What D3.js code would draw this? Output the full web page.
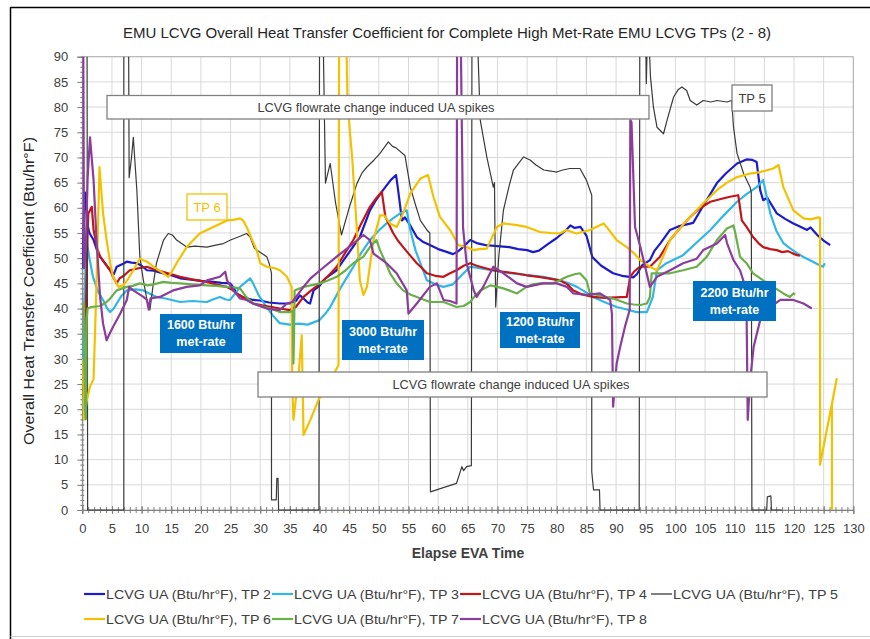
<!DOCTYPE html>
<html><head><meta charset="utf-8">
<script src="https://cdn.jsdelivr.net/npm/d3@7"></script>
<style>body{margin:0;background:#fff}svg{display:block}</style>
</head><body><svg id="c" width="870" height="639"></svg>
<script>
// ---------- DATA ----------
const titleText = "EMU LCVG Overall Heat Transfer Coefficient  for Complete High Met-Rate EMU LCVG TPs (2 - 8)";
const xTitle = "Elapse EVA Time";
const yTitle = "Overall Heat Transfer Coefficient (Btu/hr\u00B0F)";
const xTicks = [0,5,10,15,20,25,30,35,40,45,50,55,60,65,70,75,80,85,90,95,100,105,110,115,120,125,130];
const yTicks = [0,5,10,15,20,25,30,35,40,45,50,55,60,65,70,75,80,85,90];
const seriesNames = ["LCVG UA (Btu/hr\u00B0F), TP 2","LCVG UA (Btu/hr\u00B0F), TP 3","LCVG UA (Btu/hr\u00B0F), TP 4","LCVG UA (Btu/hr\u00B0F), TP 5","LCVG UA (Btu/hr\u00B0F), TP 6","LCVG UA (Btu/hr\u00B0F), TP 7","LCVG UA (Btu/hr\u00B0F), TP 8"];
const seriesColors = ["#1c1cc8","#33b5e5","#c0161c","#3a3a3a","#f2c200","#6aaf4a","#8a3d9a"];

const tp2 = [[0,48],[0.3,60],[0.5,63],[0.8,57],[1.2,55],[1.9,53.6],[2.5,51.5],[3,50.3],[3.8,49],[4.7,47.6],[5.3,46.8],[5.8,48.3],[6.9,48.9],[7.5,49.3],[8.3,49.1],[9.2,49],[10,48.5],[10.9,47.6],[12,47.5],[13.5,47],[15,46.6],[16.5,46],[18,45.8],[20,45.5],[22.1,45.3],[23.5,45.1],[24.9,45],[25.5,44.2],[26,43],[27,42.3],[28.8,41.7],[30,41.6],[31.5,41.2],[33.3,41],[35,41],[36,41.5],[36.7,42.6],[37.3,42],[38,41.2],[38.4,41],[39,43.6],[40,44.5],[41,46],[42.9,47.6],[44,49.5],[45.5,52],[46.8,54.2],[48.5,59.5],[49.5,61.5],[50.7,63.5],[52,65.5],[52.9,66.5],[53.2,64],[53.9,57.5],[54.4,58.1],[55.3,56.5],[56.4,54.2],[57.5,53.2],[58.6,52.6],[60,51.8],[61.3,51.3],[62.5,50.8],[63.3,51.3],[64,52],[65.4,53.6],[66.5,53],[68,52.6],[70,52.4],[72,52.2],[73.5,51.8],[75,51.6],[76,51.2],[77,51.5],[78.5,52.8],[80,54],[81.5,55.5],[82.3,56.5],[83,56],[84,56.2],[85,54.5],[86,50.2],[87.5,48.5],[89.5,47],[91,46.5],[92.9,46.2],[93.5,46.8],[94.4,48.6],[95.7,49.6],[96.5,51.5],[97.5,53],[99.1,55.6],[100.5,56.3],[103,57],[104.5,60],[107,64.9],[108.5,66.8],[110.4,68.8],[112,69.6],[113,69.5],[113.7,69.1],[114.3,63.5],[114.8,61.5],[115.5,62],[117.1,58.9],[118.5,57.8],[119.9,56.9],[121,56.3],[122.2,55.6],[122.8,56.1],[124,54.5],[125,53.5],[126.1,52.6]];

const tp3 = [[0,20],[0.3,40],[0.7,53.6],[1.2,50],[1.8,46.3],[2.6,43.5],[3.5,41.7],[4.2,40],[4.7,39.3],[5.3,40],[5.8,41],[6.6,42.5],[7.5,43.6],[9,43.8],[10.3,43.6],[11.3,43],[12.5,42.3],[14,42],[16.5,41.3],[18.5,41.5],[21,41.3],[22,41.8],[23.2,42.3],[24.2,41.8],[24.9,41.7],[25.8,43],[26.6,44.3],[27.5,45.2],[28.3,46],[28.8,45],[29.8,42.5],[31.1,40.3],[32.2,38.5],[33.3,37.1],[35,36.8],[36.5,37],[38,36.8],[40,37.7],[41,39],[41.8,40.3],[43.5,44],[45.7,48.3],[47,51],[48.5,53.6],[50,55.5],[51.3,56.9],[52.5,58],[53.6,58.9],[54.7,59.5],[55.3,55.6],[56.2,51.5],[57,49],[58.1,45.6],[59.5,44.8],[60.9,44.3],[62.5,44.8],[63.7,46.3],[65.4,48.3],[67,48],[69,47.6],[70.5,47.3],[72.1,47],[74,46.8],[75.5,46.6],[77.7,46.3],[79,46],[80.5,45.6],[82,45],[83.4,44.3],[84.8,43.3],[86.1,42.3],[88,41.3],[90.1,40.3],[91.8,39.8],[93.5,39.3],[95.2,39.3],[96.2,42.3],[96.9,47.6],[98.5,49],[101.3,50.6],[103.5,53],[105.9,55.6],[108,58.3],[110.4,61.2],[112,62.7],[113.7,64.1],[114.8,65.5],[115.4,62.2],[116,58.9],[117,55.5],[118.2,53],[119.3,52],[120.5,51],[121.5,50.3],[122.7,49.6],[124,48.8],[124.9,48.3],[125.2,49]];

const tp4 = [[0,25],[0.3,22],[0.6,40],[0.9,55],[1.0,58.8],[1.3,59.5],[1.6,60.2],[1.9,55.6],[2.5,52],[3,50.3],[3.8,49],[4.7,47.6],[5.3,46],[5.8,45],[6.3,46],[7,46.5],[8,47.6],[9.5,48],[10.9,48.3],[12,47.8],[13.6,47.3],[15,46.8],[16.5,46.3],[18.5,45.8],[21,45.3],[22.5,44.8],[24.3,44.3],[25.2,43.8],[26,43],[27.5,42],[28.8,41],[30.5,40.6],[33.3,40],[35,39.7],[36,40.3],[37.3,42.3],[38.5,43.5],[40.1,45],[41.5,46.5],[42.9,48.3],[44.3,51],[45.7,53.6],[47,56.8],[48.5,60.2],[49.5,61.8],[50.5,63.2],[51.1,58.2],[51.8,56.5],[52.4,55],[53.2,53.5],[54.1,52.2],[55.3,50.5],[56.4,49],[57.3,48],[58.1,47],[59.5,46.5],[60.9,46.3],[62,47],[63.1,47.6],[64.3,48.5],[65.4,49],[66.5,48.5],[68,48],[69.3,47.6],[71,47.3],[73,47],[74.9,46.6],[77,46.3],[78.5,46],[80.5,45.6],[81.8,44.8],[82.8,43.6],[84.3,42.8],[86.1,42.3],[88,42.1],[90,42.2],[91.8,42.3],[92.4,46.3],[93,47.3],[94,48.3],[95.7,48.3],[97.4,50.3],[99.1,53.6],[100.8,56],[102.5,58.2],[104,59.8],[105.9,61.2],[107.5,61.7],[109.2,62.2],[110.6,62.5],[111.2,57.5],[112,56.2],[113.1,54.2],[114,53],[114.8,52.2],[116,51.8],[117.1,51.6],[118,51.2],[119,51.4],[119.7,51],[120.5,50.6],[121,50.5]];

const tp5 = [[0.8,95],[0.9,0],[7.0,0],[7.0,95],[7.8,95],[7.9,66],[8.3,70],[8.6,74],[9.2,63.5],[9.7,50.3],[10.3,45.6],[10.9,41.7],[11.4,39.7],[11.9,44.3],[12.5,49],[13.7,53.6],[14.5,54.9],[15.2,54.6],[15.9,53.6],[17.6,52.2],[19,52.4],[21,52.2],[22.5,52.6],[23.8,52.9],[25,53.6],[26.5,54.3],[27.7,54.9],[28.3,54.2],[29,52],[29.4,51.6],[31.1,50.3],[31.5,49],[31.9,47],[31.9,2],[32.7,2],[32.8,6.3],[33.0,6.3],[33.1,0],[39.9,0],[40,95],[40.6,95],[41,64.9],[41.8,68.8],[42.7,61],[43.7,54.6],[45,60],[46.3,64.8],[47.2,67],[48,68.1],[49.2,69.5],[50.2,70.8],[51.6,73.1],[52.3,72.2],[52.9,71.9],[54.4,70.4],[55.3,64.1],[56.2,60.5],[57,57.5],[58.1,55.6],[58.6,55],[58.7,3.6],[61,4.5],[63.1,5.3],[64,8.6],[64.3,7.8],[64.8,8.6],[65.6,8.8],[65.7,95],[66.6,95],[67.1,77.4],[68.2,70.1],[69.3,64.1],[69.5,65],[69.7,40.3],[70.2,50],[71,59.5],[72,64.5],[72.7,67.5],[74.4,70.1],[75.5,69.5],[76.5,68.5],[77.8,67.5],[79,67.3],[80,67.1],[81,67.5],[82.2,67.8],[83.9,67.8],[85,65.5],[85.9,62.5],[85.9,7.6],[86.2,4],[87.2,4],[87.3,0],[93.9,0],[94.0,95],[95.0,95],[95.1,84.7],[95.3,95],[95.5,95],[95.8,86],[96.3,80],[96.9,76],[98,74.7],[98.6,77.4],[99.7,82],[100.5,83.5],[101.1,84],[101.9,83.3],[102.5,81.3],[103.6,80.4],[104.7,81.3],[106,81],[107,81.3],[108.7,81],[109.5,81.3],[109.8,76],[110.4,70.8],[111.5,66.8],[112.6,64.1],[112.8,63],[112.9,0],[115.4,0],[115.5,2.6],[116.1,2.8],[116.2,0],[118,0]];

const tp6 = [[0,30],[0.3,18],[0.8,22],[1.3,24.5],[1.9,26],[2.4,45],[2.9,68.1],[3.5,58.9],[4.1,53.6],[4.7,49],[5.2,46.3],[6.1,44.3],[6.9,44.6],[7.8,46],[8.6,47.6],[9.7,49.9],[10.9,49.3],[12,48.3],[13.7,47],[14.5,46.3],[15.2,47.5],[15.9,49],[17.6,52.2],[19.8,54.9],[22.1,56.2],[24.4,57.5],[25.5,57.6],[26.6,57.9],[27.1,57.5],[27.7,56.2],[28.5,54],[29.4,51.6],[30,49],[31.1,48.3],[32.5,48],[33.3,47.6],[34.5,46.3],[35.3,44.3],[35.4,25],[35.6,17.9],[36.4,26],[37.0,34.7],[37.3,14.9],[38.5,18],[39.8,21.8],[41.5,25],[43.2,28.8],[43.3,95],[44.5,95],[44.7,82],[45.1,75.4],[45.5,70],[46.3,55.6],[46.8,45.6],[47.4,42.7],[48,44.3],[49.1,53.6],[50.2,58.5],[50.9,58.5],[51.9,56.9],[53,56.2],[54.1,58.9],[55.3,62.8],[57,65.8],[58.3,66.5],[59.2,62.2],[60.3,58.2],[62,55.6],[63.4,52.6],[64.8,52.2],[65.9,51.6],[67,51.8],[68.2,51.9],[69.9,56.2],[71,56.9],[73,56.6],[74.9,56.2],[77.2,55.2],[79,55],[80.5,54.9],[81.6,55.6],[83.3,54.9],[85.6,55.6],[87.9,56.9],[88.4,56.2],[90.1,53.6],[91.8,52.2],[93,51],[94.1,49.6],[95.7,48.3],[96.9,47.6],[98,50.5],[99.1,53.6],[100.8,56],[102.5,58.2],[104.8,61],[107,63.5],[108.7,65],[110.4,66.1],[112.6,66.8],[114.3,67.1],[116.5,67.8],[117.4,68.5],[118.2,64.1],[119.9,59.5],[121.6,57.9],[122.8,57.7],[124.1,58.1],[124.4,58],[124.4,9],[127.2,26],[126.4,21],[126.4,0]];

const tp7 = [[0,40.5],[0.3,41],[0.45,20],[0.6,18],[0.75,38],[0.9,40],[1.5,40.3],[3,40.5],[4,41.2],[4.7,42],[5.8,43.6],[7.5,44.3],[8.5,44.5],[9.7,45],[11,44.6],[12,44.8],[13.7,45.3],[15,45.1],[16.5,45],[18.5,44.8],[21,44.6],[22.5,44.5],[24.4,44.3],[25.5,44.2],[26.6,44],[27.5,42.5],[28.8,41],[30,40.5],[31.7,40],[33.3,39.3],[35,39.3],[35.5,39.5],[35.6,29.1],[35.7,35],[35.8,43.6],[37.3,44.3],[38.5,44.6],[40.1,45],[41.5,45.6],[42.9,46.3],[44.3,47.5],[45.7,49],[47.4,50.3],[48.5,52.2],[49.6,53.6],[50.2,51.6],[51,49.5],[51.9,47],[53,45],[54.1,43.6],[55.3,42.8],[56.4,42.3],[57.5,41.8],[58.6,41.3],[60.9,41.3],[62,40.8],[63.1,40.3],[64.3,40.5],[65.4,41.3],[66.2,42.5],[67.1,43.6],[68.8,44.6],[70,44.3],[71,44],[72.2,43.5],[73.3,43],[74.9,44.3],[76,44.8],[77.2,45],[79.4,45],[80.5,45.6],[81.7,46.3],[83,46.8],[83.9,47],[85,45.6],[85.6,43],[86.5,42.8],[88.4,42.3],[90,41.8],[91.8,41],[93,40.8],[94.1,40.7],[95.2,41],[95.7,42.3],[96,47],[97.5,47],[99.1,47],[101.3,47.6],[103.6,48.3],[105.3,50.3],[107,53.6],[108.7,55.9],[109.8,56.5],[110.1,55],[110.9,50.3],[112,49],[113.1,47],[114.8,45.6],[116.5,44.3],[118.2,43],[119.3,42.3],[119.9,43],[120.2,42.8]];

const tp8 = [[0,95],[0.15,95],[0.3,48],[0.6,52],[0.9,66],[1.3,74],[1.9,65.5],[2.4,53.6],[3,42.3],[3.5,37],[4.1,33.7],[4.6,35],[5.2,36.4],[6.4,39],[7.5,41.7],[7.9,44.3],[8.6,43.6],[10.3,42.3],[10.9,41.7],[11.2,39.8],[11.5,42],[13.1,42.3],[15.3,43.6],[17.6,44.3],[19.8,44.6],[21,45.6],[23.2,46.3],[24.1,47.3],[24.4,45.6],[25.5,43.6],[26.6,42],[27.7,41.7],[28.8,41],[31.1,40],[33.3,39.7],[34.5,41],[35.4,41.3],[37.3,44.3],[38.5,46],[40.1,47.6],[42.9,50.3],[45.7,52.9],[47.4,54.6],[48.5,53.6],[49.1,50.9],[51.3,49],[53,47],[54.7,43.6],[55,39],[56.4,41],[58.6,44.3],[59.8,45],[60.9,41.7],[62,41.5],[63.1,41],[63.2,95],[63.8,95],[64.2,56],[64.8,49],[66,43.6],[66.5,42.3],[67.6,44.3],[69.3,48.3],[71,47],[73.3,45],[74.9,44.3],[77.7,45],[80,45],[81.7,44.3],[82.8,43],[85,42.7],[87.3,43],[89,41.7],[89.3,39],[89.5,20.5],[90.1,29.1],[90.7,32.4],[91.5,36.4],[92.3,39.7],[92.4,77.4],[92.6,77],[93.2,56.2],[94.1,52.2],[94.9,48.3],[95.7,44.3],[96.9,46.3],[99.1,47.6],[101.3,49],[103.6,49.9],[104.7,51.6],[107,52.9],[108.4,54.6],[108.7,53],[109.8,49.6],[110.9,47.6],[111.8,44.3],[112,40],[112.2,17.9],[112.6,25.8],[113.2,32.4],[114.3,37.7],[116,40.3],[117.7,41.7],[119.9,41.7],[121.6,41],[123,40]];

const seriesData = [tp2, tp3, tp4, tp5, tp6, tp7, tp8];

const spikeLabel = "LCVG flowrate change induced UA spikes";
const metRateLabels = [["1600 Btu/hr","met-rate"],["3000 Btu/hr","met-rate"],["1200 Btu/hr","met-rate"],["2200 Btu/hr","met-rate"]];

// ---------- DRAW ----------
const svg = d3.select("#c");
const W = 870, H = 639;
const L = 82.3, R = 853.3, T = 56.7, B = 510;
const x = d3.scaleLinear().domain([0,130]).range([L,R]);
const y = d3.scaleLinear().domain([0,90]).range([B,T]);
const FONT = "'Liberation Sans', Arial, sans-serif";

svg.append("rect").attr("width",W).attr("height",H).attr("fill","#fff");
// outer frame
svg.append("line").attr("x1",10.5).attr("x2",870).attr("y1",7.5).attr("y2",7.5).attr("stroke","#000").attr("stroke-width",1.5);
svg.append("line").attr("x1",10.5).attr("x2",10.5).attr("y1",7).attr("y2",639).attr("stroke","#000").attr("stroke-width",1.5);
svg.append("line").attr("x1",10.5).attr("x2",870).attr("y1",636.5).attr("y2",636.5).attr("stroke","#cfcfcf").attr("stroke-width",1);

// title
svg.append("text").attr("x",447).attr("y",38).attr("text-anchor","middle")
  .attr("font-family","'Liberation Sans Narrow', 'Arial Narrow', "+FONT).attr("font-size",15).attr("fill","#262626")
  .attr("textLength",648).attr("lengthAdjust","spacingAndGlyphs").text(titleText);

// gridlines
const g = svg.append("g");
g.selectAll(".vg").data(xTicks.filter(d=>d>0)).join("line")
  .attr("x1",d=>x(d)).attr("x2",d=>x(d)).attr("y1",T).attr("y2",B).attr("stroke","#d9d9d9").attr("stroke-width",1);
g.selectAll(".hg").data(yTicks.filter(d=>d>0)).join("line")
  .attr("x1",L).attr("x2",R).attr("y1",d=>y(d)).attr("y2",d=>y(d)).attr("stroke","#d9d9d9").attr("stroke-width",1);
// plot border
svg.append("rect").attr("x",L).attr("y",T).attr("width",R-L).attr("height",B-T).attr("fill","none").attr("stroke","#b0b0b0").attr("stroke-width",1);

// clip
svg.append("defs").append("clipPath").attr("id","clip").append("rect").attr("x",L).attr("y",T).attr("width",R-L).attr("height",B-T+1);

// axes
const axisColor = "#7f7f7f";
const xa = svg.append("g").attr("transform",`translate(0,${B})`)
  .call(d3.axisBottom(x).tickValues(xTicks).tickSize(4).tickPadding(10).tickFormat(d3.format("d")));
xa.selectAll(".tick line").attr("y1",-4).attr("y2",4);
const xm = svg.append("g").attr("transform",`translate(0,${B})`)
  .call(d3.axisBottom(x).tickValues(d3.range(0,131,1)).tickSize(3).tickFormat(""));
xm.selectAll(".tick line").attr("y1",-3).attr("y2",3);
xm.select(".domain").remove();
const ya = svg.append("g").attr("transform",`translate(${L},0)`)
  .call(d3.axisLeft(y).tickValues(yTicks).tickSize(5).tickPadding(9).tickFormat(d3.format("d")));
const ym = svg.append("g").attr("transform",`translate(${L},0)`)
  .call(d3.axisLeft(y).tickValues(d3.range(0,91,1)).tickSize(2).tickFormat(""));
ym.selectAll(".tick line").attr("x1",2).attr("x2",-2);
ym.select(".domain").remove();
[xa,xm,ya,ym].forEach(a=>{
  a.selectAll("line").attr("stroke",axisColor);
  a.selectAll(".domain").attr("stroke",axisColor);
  a.selectAll("text").attr("font-family",FONT).attr("font-size",13).attr("fill","#404040");
});

// axis titles
svg.append("text").attr("x",468).attr("y",558).attr("text-anchor","middle")
  .attr("font-family",FONT).attr("font-size",14).attr("font-weight","bold").attr("fill","#404040").text(xTitle);
svg.append("text").attr("transform","translate(34,291) rotate(-90)").attr("text-anchor","middle")
  .attr("font-family",FONT).attr("font-size",14).attr("fill","#262626")
  .attr("textLength",308).attr("lengthAdjust","spacingAndGlyphs").text(yTitle);

// series
const line = d3.line().x(d=>x(d[0])).y(d=>y(d[1]));
const sg = svg.append("g").attr("clip-path","url(#clip)");
seriesData.forEach((s,i)=>{
  sg.append("path").attr("d",line(s)).attr("fill","none")
    .attr("stroke",seriesColors[i]).attr("stroke-width",i===3?1.2:2.2)
    .attr("stroke-linejoin","round");
});

// annotation boxes (gray)
function box(x0,y0,x1,y1,stroke,txt,tx,ty,color,tl,bold){
  svg.append("rect").attr("x",x0).attr("y",y0).attr("width",x1-x0).attr("height",y1-y0)
    .attr("fill","#fff").attr("stroke",stroke).attr("stroke-width",1.3);
  const t = svg.append("text").attr("x",tx).attr("y",ty).attr("text-anchor","middle").attr("dominant-baseline","central")
    .attr("font-family",FONT).attr("font-size",13).attr("fill",color).text(txt);
  if(tl) t.attr("textLength",tl).attr("lengthAdjust","spacingAndGlyphs");
  if(bold) t.attr("font-weight","bold");
}
box(107,95.5,649,119,"#808080",spikeLabel,376,107.5,"#404040",237);
box(258,372,767,397,"#808080",spikeLabel,511,384.5,"#404040",237);
box(187,194,227,220,"#f2c200","TP 6",207,207.5,"#f2c200",null,false);
box(732,85,772,111,"#808080","TP 5",752,98.5,"#404040",null,false);

// met-rate blue boxes
const blueBoxes = [[160,314,242,353],[342,320,424,360],[500,312,580,348],[693,281,776,321]];
blueBoxes.forEach((b,i)=>{
  svg.append("rect").attr("x",b[0]).attr("y",b[1]).attr("width",b[2]-b[0]).attr("height",b[3]-b[1]).attr("fill","#0070c0");
  const cx=(b[0]+b[2])/2, cy=(b[1]+b[3])/2;
  metRateLabels[i].forEach((t,j)=>{
    svg.append("text").attr("x",cx).attr("y",cy+(j===0?-8.5:8.5)).attr("text-anchor","middle").attr("dominant-baseline","central")
      .attr("font-family",FONT).attr("font-size",12.5).attr("font-weight","bold").attr("fill","#fff").text(t);
  });
});

// legend
const legendPos = [[84,594],[272,594],[460,594],[651,594],[84,619],[272,619],[460,619]];
legendPos.forEach((p,i)=>{
  svg.append("line").attr("x1",p[0]).attr("x2",p[0]+21).attr("y1",p[1]).attr("y2",p[1])
    .attr("stroke",seriesColors[i]).attr("stroke-width",i===3?1.3:2.2);
  svg.append("text").attr("x",p[0]+22).attr("y",p[1]).attr("dominant-baseline","central")
    .attr("font-family","'Liberation Sans Narrow', 'Arial Narrow', "+FONT).attr("font-size",13).attr("fill","#404040")
    .attr("textLength",165).attr("lengthAdjust","spacingAndGlyphs").text(seriesNames[i]);
});
</script></body></html>
